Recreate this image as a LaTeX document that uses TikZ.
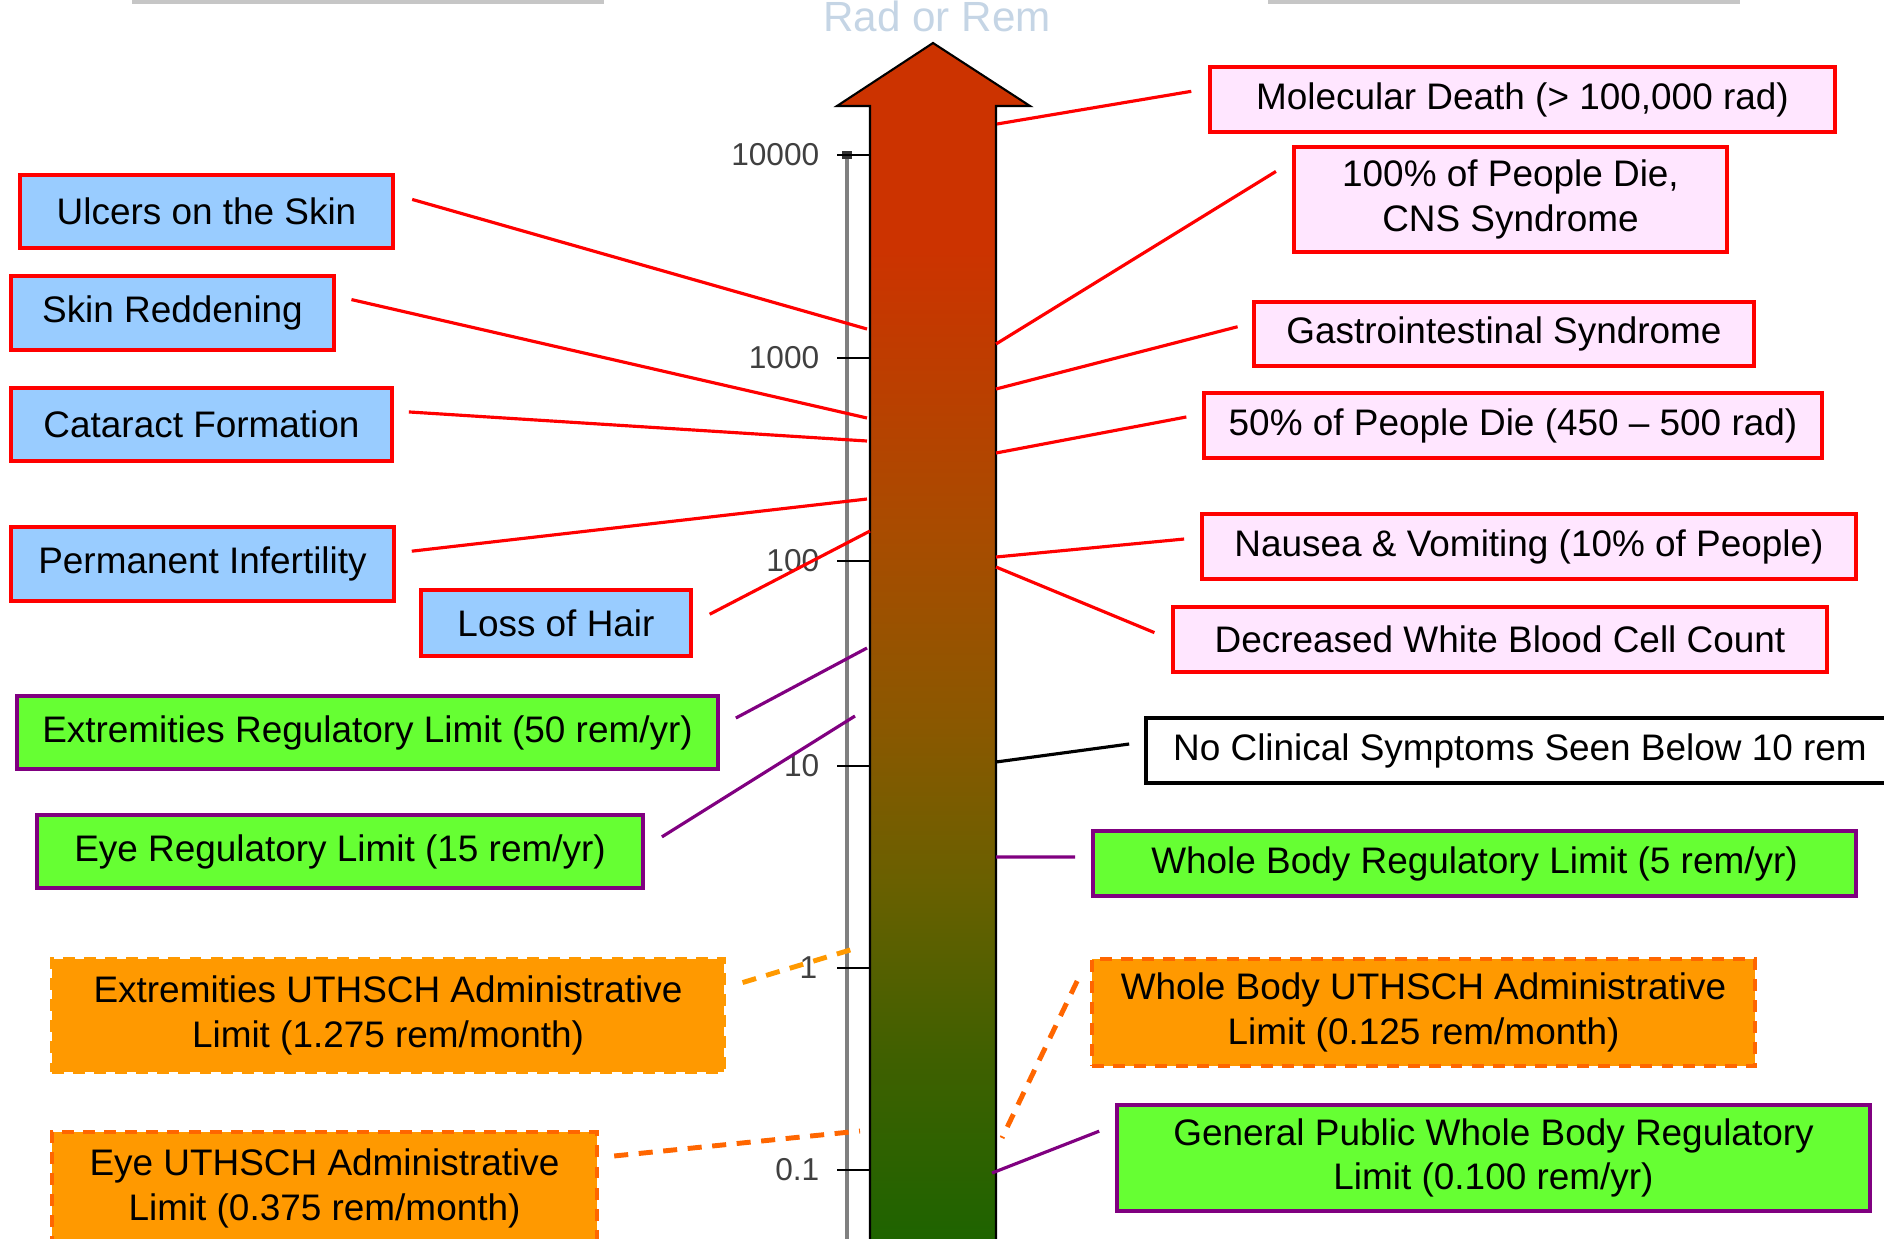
\documentclass[tikz,border=0pt]{standalone}
\usepackage{fontspec}
\setmainfont{Liberation Sans}
\definecolor{skinblue}{HTML}{99CCFF}
\definecolor{deathpink}{HTML}{FFE6FF}
\definecolor{limgreen}{HTML}{66FF33}
\definecolor{limpurple}{HTML}{800080}
\definecolor{limorange}{HTML}{FF9900}
\definecolor{admorange}{HTML}{FF6600}
\definecolor{titleblue}{HTML}{C5D5E5}
\pgfdeclareverticalshading{arrowgrad}{100bp}{rgb(0bp)=(0.110,0.392,0); rgb(25bp)=(0.110,0.392,0); rgb(33.1bp)=(0.251,0.376,0); rgb(40.3bp)=(0.416,0.376,0); rgb(46.7bp)=(0.541,0.345,0); rgb(54.6bp)=(0.659,0.298,0); rgb(66.4bp)=(0.8,0.2,0); rgb(100bp)=(0.8,0.2,0)}
\newcommand{\boxfont}{\fontsize{10.5pt}{12.6pt}\selectfont}
\tikzset{
  effect/.style = {rectangle, draw=red, line width=1pt, align=center, font=\boxfont, inner sep=0pt},
  skinbox/.style = {effect, fill=skinblue},
  deathbox/.style = {effect, fill=deathpink},
  regbox/.style = {effect, draw=limpurple, fill=limgreen},
  admbox/.style = {effect, draw=admorange, fill=limorange, line width=1.2pt, dash pattern=on 3.4pt off 2.6pt},
  redline/.style = {red, line width=0.9pt},
  purpline/.style = {limpurple, line width=0.9pt},
  admline/.style = {admorange, line width=1.4pt, dash pattern=on 4pt off 3pt},
  ticklabel/.style = {anchor=east, inner sep=0pt, text=black!75, font=\fontsize{9pt}{10pt}\selectfont}
}
\begin{document}
\begin{tikzpicture}[x=0.01cm, y=-0.01cm]
    \useasboundingbox (0,0) rectangle (1884,1239);
    \clip (0,0) rectangle (1884,1239);
    \fill[gray!45] (132,0) rectangle (604,4);
    \fill[gray!45] (1268,0) rectangle (1740,4);
    \node[anchor=base, inner sep=0pt, text=titleblue, font=\fontsize{12pt}{14pt}\selectfont] (title) at (937,31) {Rad or Rem};

    \draw[gray, line width=0.9pt] (847,155) -- (847,1250);
    \fill[black!80] (842,151) rectangle (852,159);
    \draw[black, line width=0.7pt] (837,155) -- (870,155);
    \draw[black, line width=0.7pt] (837,358) -- (870,358);
    \draw[black, line width=0.7pt] (837,561) -- (870,561);
    \draw[black, line width=0.7pt] (837,766) -- (870,766);
    \draw[black, line width=0.7pt] (837,968) -- (870,968);
    \draw[black, line width=0.7pt] (837,1170) -- (870,1170);
    \node[ticklabel] (t10000) at (820,155) {10000};
    \node[ticklabel] (t1000) at (820,358) {1000};
    \node[ticklabel] (t100) at (820,561) {100};
    \node[ticklabel] (t10) at (820,766) {10};
    \node[ticklabel] (t1) at (818,968) {1};
    \node[ticklabel] (t01) at (820,1170) {0.1};

    \shade[shading=arrowgrad]
        (870,1250) -- (870,106) -- (837,106) -- (933,43) -- (1030,106) -- (996,106) -- (996,1250) -- cycle;
    \draw[black, line width=0.6pt]
        (870,1250) -- (870,106) -- (837,106) -- (933,43) -- (1030,106) -- (996,106) -- (996,1250);

    \node[skinbox, minimum width=3.73cm, minimum height=0.73cm] (ulcer) at (206.5,211.5) {Ulcers on the Skin};
    \node[skinbox, minimum width=3.23cm, minimum height=0.74cm] (redden) at (172.5,313) {Skin Reddening};
    \node[skinbox, minimum width=3.81cm, minimum height=0.73cm] (cataract) at (201.5,424.5) {Cataract Formation};
    \node[skinbox, minimum width=3.83cm, minimum height=0.74cm] (infert) at (202.5,564) {Permanent Infertility};
    \node[skinbox, minimum width=2.70cm, minimum height=0.66cm] (hair) at (556,623) {Loss of Hair};
    \node[regbox, minimum width=7.01cm, minimum height=0.73cm] (extreg) at (367.5,732.5) {Extremities Regulatory Limit (50 rem/yr)};
    \node[regbox, minimum width=6.06cm, minimum height=0.73cm] (eyereg) at (340,851.5) {Eye Regulatory Limit (15 rem/yr)};
    \node[admbox, draw=limorange, minimum width=6.72cm, minimum height=1.13cm] (extadm) at (388,1015.5) {Extremities UTHSCH Administrative\\Limit (1.275 rem/month)};
    \node[admbox, minimum width=5.45cm, minimum height=1.13cm] (eyeadm) at (324.5,1188.5) {Eye UTHSCH Administrative\\Limit (0.375 rem/month)};

    \node[deathbox, minimum width=6.25cm, minimum height=0.65cm] (moldeath) at (1522.5,99.5) {Molecular Death (> 100,000 rad)};
    \node[deathbox, minimum width=4.33cm, minimum height=1.05cm] (cns) at (1510.5,199.5) {100\% of People Die,\\CNS Syndrome};
    \node[deathbox, minimum width=5.00cm, minimum height=0.64cm] (gastro) at (1504,334) {Gastrointestinal Syndrome};
    \node[deathbox, minimum width=6.18cm, minimum height=0.65cm] (fifty) at (1513,425.5) {50\% of People Die (450 -- 500 rad)};
    \node[deathbox, minimum width=6.54cm, minimum height=0.65cm] (nausea) at (1529,546.5) {Nausea \& Vomiting (10\% of People)};
    \node[deathbox, minimum width=6.54cm, minimum height=0.65cm] (wbc) at (1500,639.5) {Decreased White Blood Cell Count};
    \node[effect, draw=black, fill=white, minimum width=7.48cm, minimum height=0.65cm] (noclin) at (1520,750.5) {No Clinical Symptoms Seen Below 10 rem};
    \node[regbox, minimum width=7.63cm, minimum height=0.65cm] (wbreg) at (1474.5,863.5) {Whole Body Regulatory Limit (5 rem/yr)};
    \node[admbox, minimum width=6.63cm, minimum height=1.07cm] (wbadm) at (1423.5,1012.5) {Whole Body UTHSCH Administrative\\Limit (0.125 rem/month)};
    \node[regbox, minimum width=7.53cm, minimum height=1.06cm] (genpub) at (1493.5,1158) {General Public Whole Body Regulatory\\Limit (0.100 rem/yr)};

    \coordinate (ulcer_pt) at (867,329);
    \coordinate (redden_pt) at (867,418);
    \coordinate (cataract_pt) at (867,441);
    \coordinate (infert_pt) at (867,499);
    \coordinate (hair_pt) at (870,531);
    \coordinate (extreg_pt) at (867,648);
    \coordinate (eyereg_pt) at (855,716);
    \coordinate (extadm_pt) at (860,947);
    \coordinate (eyeadm_pt) at (860,1131);
    \coordinate (moldeath_pt) at (997,124);
    \coordinate (cns_pt) at (996,344);
    \coordinate (gastro_pt) at (996,389);
    \coordinate (fifty_pt) at (996,453);
    \coordinate (nausea_pt) at (996,557);
    \coordinate (wbc_pt) at (996,567);
    \coordinate (noclin_pt) at (996,762);
    \coordinate (wbreg_pt) at (996,857);
    \coordinate (wbadm_pt) at (1002,1138);
    \coordinate (genpub_pt) at (992,1173);

    \draw[redline, shorten <=0.18cm] ([yshift=0.17cm]ulcer.east) -- (ulcer_pt);
    \draw[redline, shorten <=0.16cm] ([yshift=0.17cm]redden.east) -- (redden_pt);
    \draw[redline, shorten <=0.15cm] ([yshift=0.135cm]cataract.east) -- (cataract_pt);
    \draw[redline, shorten <=0.16cm] ([yshift=0.11cm]infert.east) -- (infert_pt);
    \draw[redline, shorten <=0.19cm] (hair.east) -- (hair_pt);
    \draw[purpline, shorten <=0.18cm] ([yshift=0.06cm]extreg.east) -- (extreg_pt);
    \draw[purpline, shorten <=0.20cm] ([yshift=0.04cm]eyereg.east) -- (eyereg_pt);
    \draw[admline, limorange, shorten <=0.17cm] ([yshift=0.28cm]extadm.east) -- (extadm_pt);
    \draw[admline, shorten <=0.15cm] ([yshift=0.31cm]eyeadm.east) -- (eyeadm_pt);

    \draw[redline, shorten <=0.17cm] ([yshift=0.11cm]moldeath.west) -- (moldeath_pt);
    \draw[redline, shorten <=0.19cm] ([yshift=0.38cm]cns.west) -- (cns_pt);
    \draw[redline, shorten <=0.15cm] ([yshift=0.11cm]gastro.west) -- (gastro_pt);
    \draw[redline, shorten <=0.16cm] ([yshift=0.115cm]fifty.west) -- (fifty_pt);
    \draw[redline, shorten <=0.16cm] ([yshift=0.09cm]nausea.west) -- (nausea_pt);
    \draw[redline, shorten <=0.18cm] (wbc.west) -- (wbc_pt);
    \draw[black, line width=0.9pt, shorten <=0.15cm] ([yshift=0.085cm]noclin.west) -- (noclin_pt);
    \draw[purpline, shorten <=0.16cm] ([yshift=0.065cm]wbreg.west) -- (wbreg_pt);
    \draw[admline, shorten <=0.29cm] ([yshift=0.02cm]wbadm.north west) -- (wbadm_pt);
    \draw[purpline, shorten <=0.17cm] ([yshift=0.33cm]genpub.west) -- (genpub_pt);
\end{tikzpicture}
\end{document}
